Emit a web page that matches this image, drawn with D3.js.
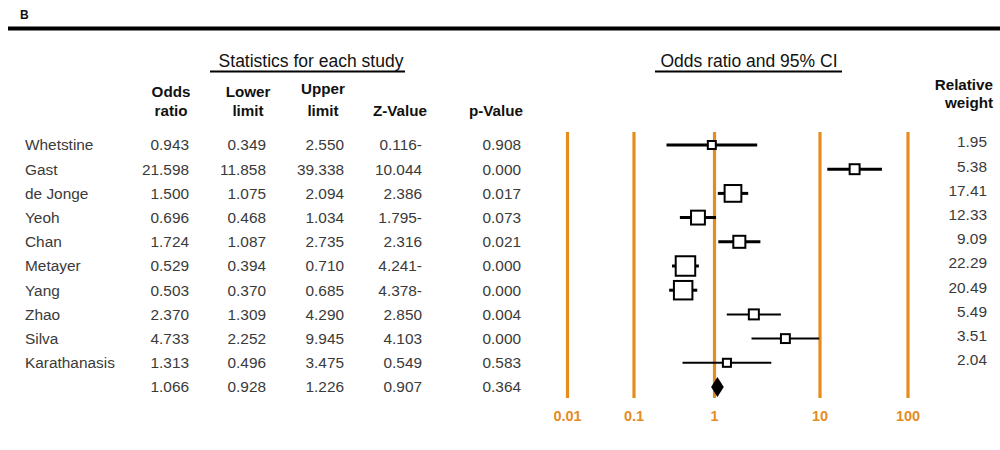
<!DOCTYPE html>
<html>
<head>
<meta charset="utf-8">
<script src="https://cdn.jsdelivr.net/npm/d3@7/dist/d3.min.js"></script>
<style>
  body { margin: 0; background: #fff; }
  svg text { font-family: "Liberation Sans", Arial, sans-serif; }
</style>
</head>
<body>
<div id="chart"></div>
<script>
/* values */
const studies = ["Whetstine", "Gast", "de Jonge", "Yeoh", "Chan", "Metayer", "Yang", "Zhao", "Silva", "Karathanasis"];
const oddsRatio = [0.943, 21.598, 1.500, 0.696, 1.724, 0.529, 0.503, 2.370, 4.733, 1.313];
const lowerLimit = [0.349, 11.858, 1.075, 0.468, 1.087, 0.394, 0.370, 1.309, 2.252, 0.496];
const upperLimit = [2.550, 39.338, 2.094, 1.034, 2.735, 0.710, 0.685, 4.290, 9.945, 3.475];
const zValue = [-0.116, 10.044, 2.386, -1.795, 2.316, -4.241, -4.378, 2.850, 4.103, 0.549];
const pValue = [0.908, 0.000, 0.017, 0.073, 0.021, 0.000, 0.000, 0.004, 0.000, 0.583];
const relWeight = [1.95, 5.38, 17.41, 12.33, 9.09, 22.29, 20.49, 5.49, 3.51, 2.04];
// pooled estimate
const pooled = {or: 1.066, lo: 0.928, hi: 1.226, z: 0.907, p: 0.364};
const axisTicks = [0.01, 0.1, 1, 10, 100];

const width = 1000, height = 450;
const orange = "#e58c1f";
const textCol = "#3a3a3a";
const valSize = 15.4, headSize = 15.2;

const svg = d3.select("#chart").append("svg")
  .attr("width", width)
  .attr("height", height);

// rows: 10 studies + pooled row
const y = d3.scalePoint()
  .domain(d3.range(studies.length + 1))
  .range([145, 387]);

// data scale (log), and the gridline scale (the printed gridlines are not evenly spaced)
const x = d3.scaleLog().domain([1, 10]).range([714.5, 819.5]);
const xGrid = d3.scaleLog().domain(axisTicks).range([567.5, 634, 714.5, 820, 908]);

// panel letter + top rule
svg.append("text")
  .attr("x", 20).attr("y", 19)
  .attr("font-size", 12).attr("font-weight", "bold")
  .attr("fill", "#111")
  .text("B");
svg.append("line")
  .attr("x1", 8).attr("x2", 1000)
  .attr("y1", 28.5).attr("y2", 28.5)
  .attr("stroke", "#000").attr("stroke-width", 4);

// section titles
function title(txt, cx, x1, x2) {
  svg.append("text")
    .attr("x", cx).attr("y", 67)
    .attr("text-anchor", "middle")
    .attr("font-size", 17.5)
    .attr("fill", "#111")
    .text(txt);
  svg.append("line")
    .attr("x1", x1).attr("x2", x2)
    .attr("y1", 71.5).attr("y2", 71.5)
    .attr("stroke", "#000").attr("stroke-width", 1.8);
}
title("Statistics for each study", 311, 210, 405);
title("Odds ratio and 95% CI", 749, 655, 842);

// column headers
const cols = [
  {lines: ["Odds", "ratio"], x: 189, vals: oddsRatio, pooled: pooled.or},
  {lines: ["Lower", "limit"], x: 266, vals: lowerLimit, pooled: pooled.lo},
  {lines: ["Upper", "limit"], x: 344, vals: upperLimit, pooled: pooled.hi},
  {lines: ["", "Z-Value"], x: 422, vals: zValue, pooled: pooled.z},
  {lines: ["", "p-Value"], x: 521, vals: pValue, pooled: pooled.p}
];
const headCenters = [171, 248, 323, 400, 496];

const fmt3 = d3.format(".3f");
// negative numbers are printed with a trailing minus in the original
const fmtZ = v => v < 0 ? fmt3(-v) + "-" : fmt3(v);

cols.forEach((c, i) => {
  c.lines.forEach((ln, j) => {
    if (!ln) return;
    svg.append("text")
      .attr("x", headCenters[i])
      .attr("y", j === 0 ? (i === 2 ? 94 : 97) : 116)
      .attr("text-anchor", "middle")
      .attr("font-size", headSize)
      .attr("font-weight", "bold")
      .attr("fill", "#111")
      .text(ln);
  });
  const vals = c.vals.concat([c.pooled]);
  svg.append("g").selectAll("text")
    .data(vals)
    .join("text")
    .attr("x", c.x)
    .attr("y", (d, k) => y(k))
    .attr("dy", "0.35em")
    .attr("text-anchor", "end")
    .attr("font-size", valSize)
    .attr("fill", textCol)
    .text(d => i === 3 ? fmtZ(d) : fmt3(d));
});

// study names
svg.append("g").selectAll("text")
  .data(studies)
  .join("text")
  .attr("x", 25)
  .attr("y", (d, i) => y(i))
  .attr("dy", "0.35em")
  .attr("font-size", valSize)
  .attr("fill", textCol)
  .text(d => d);

// relative weight
svg.append("text").attr("x", 993).attr("y", 90)
  .attr("text-anchor", "end").attr("font-size", headSize).attr("font-weight", "bold")
  .attr("fill", "#111").text("Relative");
svg.append("text").attr("x", 993).attr("y", 108)
  .attr("text-anchor", "end").attr("font-size", headSize).attr("font-weight", "bold")
  .attr("fill", "#111").text("weight");
svg.append("g").selectAll("text")
  .data(relWeight)
  .join("text")
  .attr("x", 987)
  .attr("y", (d, i) => y(i) - 3)
  .attr("dy", "0.35em")
  .attr("text-anchor", "end")
  .attr("font-size", valSize)
  .attr("fill", textCol)
  .text(d => d3.format(".2f")(d));

// gridlines + tick labels
const grid = svg.append("g");
grid.selectAll("line")
  .data(axisTicks)
  .join("line")
  .attr("x1", d => xGrid(d)).attr("x2", d => xGrid(d))
  .attr("y1", 132).attr("y2", 398)
  .attr("stroke", orange).attr("stroke-width", 3.2);
grid.selectAll("text")
  .data(axisTicks)
  .join("text")
  .attr("x", d => xGrid(d))
  .attr("y", 421)
  .attr("text-anchor", "middle")
  .attr("font-size", 14.5)
  .attr("font-weight", "bold")
  .attr("fill", orange)
  .text(d => d);

// box size by weight
const boxSize = d3.scaleLinear()
  .domain(d3.extent(relWeight))
  .range([8, 19.5]);

const rows = studies.map((s, i) => ({
  i, or: oddsRatio[i], lo: lowerLimit[i], hi: upperLimit[i], w: relWeight[i]
}));

const plot = svg.append("g");
plot.selectAll("line.ci")
  .data(rows)
  .join("line")
  .attr("class", "ci")
  .attr("x1", d => x(d.lo)).attr("x2", d => x(d.hi))
  .attr("y1", d => y(d.i)).attr("y2", d => y(d.i))
  .attr("stroke", "#000")
  .attr("stroke-width", d => d.i < 7 ? 3 : 2);

plot.selectAll("rect")
  .data(rows)
  .join("rect")
  .attr("x", d => x(d.or) - boxSize(d.w) / 2)
  .attr("y", d => y(d.i) - boxSize(d.w) / 2)
  .attr("width", d => boxSize(d.w))
  .attr("height", d => boxSize(d.w))
  .attr("fill", "#fff")
  .attr("stroke", "#000")
  .attr("stroke-width", 2);

// pooled diamond
const py = y(studies.length);
plot.append("path")
  .attr("d", d3.line()([
    [x(pooled.lo), py],
    [x(pooled.or), py - 10],
    [x(pooled.hi), py],
    [x(pooled.or), py + 10]
  ]) + "Z")
  .attr("fill", "#000");
</script>
</body>
</html>
